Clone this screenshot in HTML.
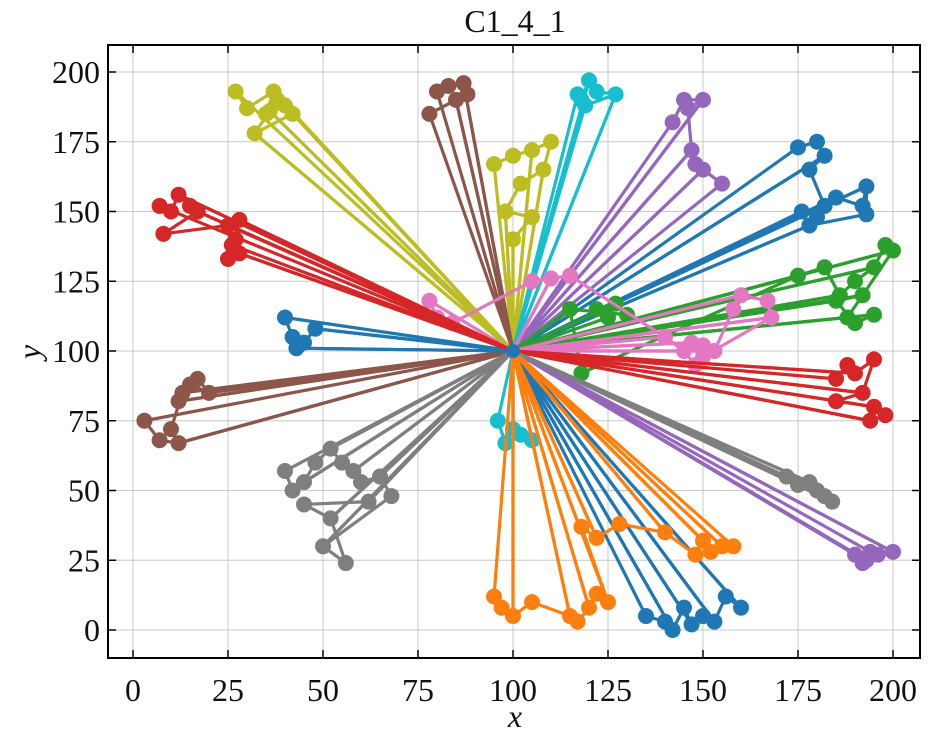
<!DOCTYPE html>
<html><head><meta charset="utf-8">
<style>
html,body{margin:0;padding:0;background:#fff;}
svg text{font-family:"Liberation Serif",serif;fill:#111;}
</style></head>
<body>
<svg id="chart" width="931" height="738" viewBox="0 0 931 738" xmlns="http://www.w3.org/2000/svg">
<rect width="931" height="738" fill="#fff"/>
<text x="515" y="32" font-size="32" text-anchor="middle">C1_4_1</text>
<g id="grid"></g>
<g id="routes"></g>
<rect x="108" y="45" width="812" height="613" fill="none" stroke="#000" stroke-width="2"/>
<g id="ticks"></g>
<text x="515" y="727" font-size="32" font-style="italic" text-anchor="middle">x</text>
<text x="40" y="352" font-size="32" font-style="italic" text-anchor="middle" transform="rotate(-90 40 352)">y</text>
</svg>
<script>
const xTicks=[0,25,50,75,100,125,150,175,200];
const yTicks=[0,25,50,75,100,125,150,175,200];
const depot=[100,100];
const clusterNames=["olive-top-left","olive-center","brown-top","brown-left","cyan-top","cyan-bottom","purple-top","purple-right","blue-top-right","blue-left","blue-bottom","green","pink","red-left","red-right","gray-left","gray-right","orange"];
const clusterColors=["#bcbd22","#bcbd22","#8c564b","#8c564b","#17becf","#17becf","#9467bd","#9467bd","#1f77b4","#1f77b4","#1f77b4","#2ca02c","#e377c2","#d62728","#d62728","#7f7f7f","#7f7f7f","#ff7f0e"];
const clusterPoints=[
[[27,193],[30,187],[37,193],[35,185],[40,188],[42,185],[32,178],[38,190],[36,186]],
[[95,167],[100,170],[105,172],[110,175],[108,165],[102,160],[98,150],[105,148],[100,140]],
[[80,193],[83,195],[87,196],[88,192],[85,190],[78,185]],
[[3,75],[7,68],[12,67],[10,72],[13,85],[17,90],[20,85],[15,88],[12,82]],
[[117,192],[118,190],[120,197],[122,193],[127,192],[119,188]],
[[96,75],[98,67],[100,72],[102,70],[105,68]],
[[142,182],[145,190],[150,190],[146,187],[147,172],[148,167],[150,165],[155,160]],
[[190,27],[192,24],[193,25],[196,27],[200,28],[194,28]],
[[175,173],[180,175],[182,170],[178,165],[182,152],[180,148],[185,155],[192,152],[193,159],[193,149],[178,145],[176,150]],
[[40,112],[42,105],[43,101],[45,103],[48,108]],
[[135,5],[140,3],[142,0],[145,8],[147,2],[150,5],[153,3],[156,12],[160,8]],
[[125,112],[122,115],[127,117],[130,113],[115,115],[118,92],[175,127],[182,130],[186,120],[190,125],[195,130],[198,138],[200,136],[188,112],[195,113],[190,110],[185,118],[192,120]],
[[78,118],[80,112],[84,110],[105,125],[110,126],[115,127],[140,105],[145,100],[148,95],[150,102],[153,100],[158,115],[160,120],[167,118],[168,112],[150,98],[147,103]],
[[7,152],[10,150],[12,156],[15,152],[17,150],[8,142],[25,145],[27,140],[28,135],[25,133],[28,147],[26,138]],
[[185,90],[188,95],[190,92],[195,97],[192,85],[185,82],[195,80],[198,77],[194,75]],
[[40,57],[42,50],[45,53],[48,60],[52,65],[55,60],[58,57],[60,53],[65,55],[68,48],[50,30],[56,24],[52,40],[45,45],[62,46]],
[[172,55],[175,52],[178,53],[180,50],[182,48],[184,46]],
[[95,12],[97,8],[100,5],[105,10],[115,5],[117,3],[120,8],[122,13],[125,10],[118,37],[122,33],[128,38],[140,35],[148,27],[150,32],[152,28],[155,30],[158,30]]
];
const X0=108,X1=920,Y0=45,Y1=658;
function sx(v){return 133+v*3.8;}
function sy(v){return 630-v*2.79;}
const NS="http://www.w3.org/2000/svg";
const grid=document.getElementById('grid'),ticks=document.getElementById('ticks'),routes=document.getElementById('routes');
function mk(tag,attrs,parent){const e=document.createElementNS(NS,tag);for(const k in attrs)e.setAttribute(k,attrs[k]);parent.appendChild(e);return e;}
xTicks.forEach((t,i)=>{
  const x=sx(t);
  const g=mk('line',{x1:x,x2:x,y1:Y0,y2:Y1,stroke:'#c8c8c8','stroke-width':1},grid);
  
  
  mk('line',{x1:x,x2:x,y1:Y1,y2:Y1-8,stroke:'#000','stroke-width':1.5},ticks);
  mk('line',{x1:x,x2:x,y1:Y0,y2:Y0+8,stroke:'#000','stroke-width':1.5},ticks);
  const tx=mk('text',{x:x,y:701,'font-size':32,'text-anchor':'middle'},ticks);
  tx.textContent=t;
  
  
});
yTicks.forEach(t=>{
  const y=sy(t);
  const g=mk('line',{x1:X0,x2:X1,y1:y,y2:y,stroke:'#c8c8c8','stroke-width':1},grid);
  
  
  mk('line',{x1:X0,x2:X0+8,y1:y,y2:y,stroke:'#000','stroke-width':1.5},ticks);
  mk('line',{x1:X1,x2:X1-8,y1:y,y2:y,stroke:'#000','stroke-width':1.5},ticks);
  const tx=mk('text',{x:100,y:y+11,'font-size':32,'text-anchor':'end'},ticks);
  tx.textContent=t;
  
  
});
clusterPoints.forEach((pts,ci)=>{
  const col=clusterColors[ci];
  const g=mk('g',{},routes);
  
  
  for(let i=0;i<pts.length;i+=2){
    const chunk=pts.slice(i,i+3);
    const all=[depot].concat(chunk).concat([depot]);
    const pl=mk('polyline',{points:all.map(p=>sx(p[0])+','+sy(p[1])).join(' '),fill:'none',stroke:col,'stroke-width':3.2,'stroke-linejoin':'round'},g);
    
    
  }
  pts.forEach(p=>{
    const c=mk('circle',{cx:sx(p[0]),cy:sy(p[1]),r:8,fill:col},g);
    
    
  });
});
const d=mk('circle',{cx:sx(depot[0]),cy:sy(depot[1]),r:7,fill:'#1f77b4'},routes);


</script>
</body></html>
